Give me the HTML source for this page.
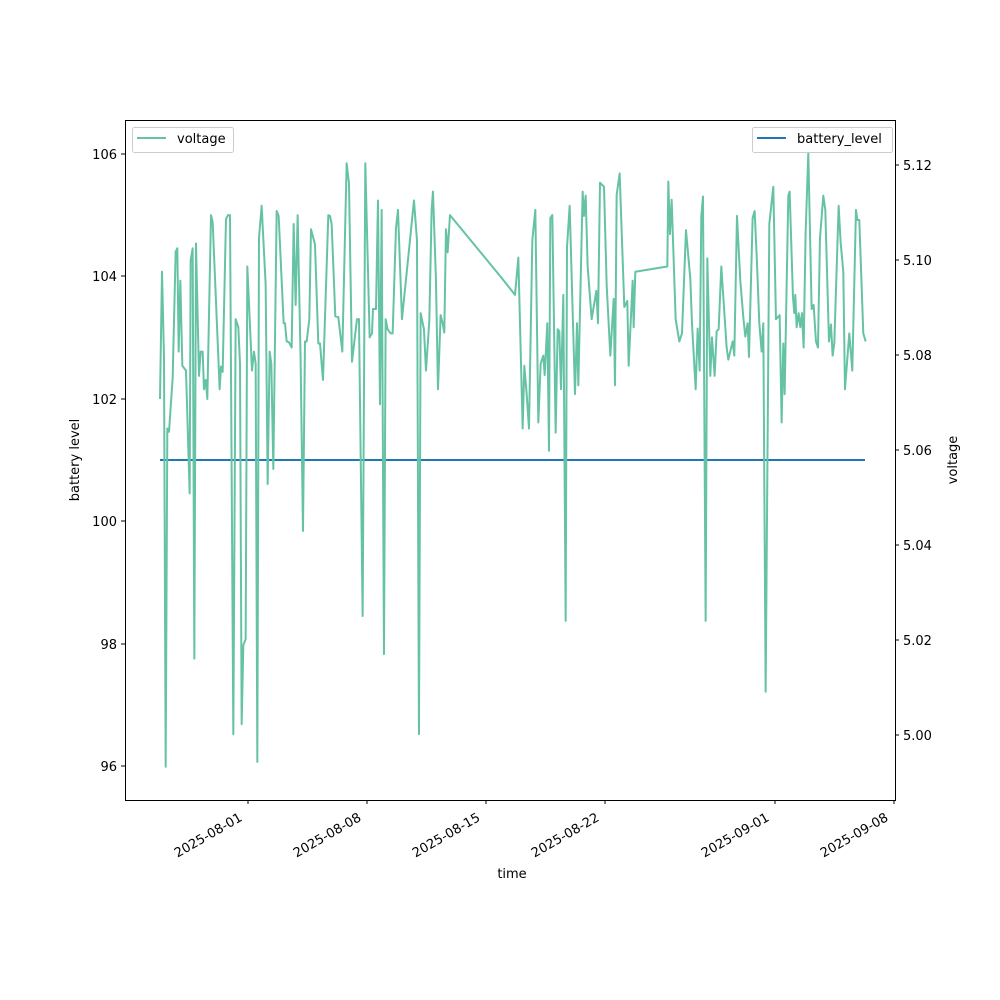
<!DOCTYPE html>
<html><head><meta charset="utf-8"><style>body{margin:0;background:#fff}svg{display:block}text{font-family:"DejaVu Sans","Liberation Sans",sans-serif;font-size:13px;fill:#000}</style></head>
<body>
<svg width="1000" height="1000" viewBox="0 0 1000 1000">
<rect width="1000" height="1000" fill="#fff"/>
<line x1="160" y1="460" x2="865" y2="460" stroke="#1f77b4" stroke-width="2"/>
<g fill="none" stroke="#66c2a5" stroke-width="2" stroke-linejoin="round">
<polyline vector-effect="non-scaling-stroke" transform="matrix(0.3333,0,0,0.405,150,143)" points="30,632 36,318 42,530 47,1540 52,705 57,713 68,580 77,268 82,260 86,515 91,340 97,550 108,562 119,865 122,290 128,260 133,1273 138,248 147,575 152,515 158,515 162,608 167,585 172,632 183,178 188,195 209,608 213,552 218,565 228,188 234,178 240,178 250,1460 257,435 265,455 270,545 275,1435 280,1240 287,1225 292,305 306,562 312,515 317,545 322,1528 327,235 335,155 347,350 353,842 359,515 364,545 370,805 380,168 386,180 401,445 405,445 410,490 417,492 425,505 431,200 437,400 443,178 452,540 459,958 465,490 470,490 478,435 483,213 495,250 505,495 510,495 519,585 535,178 540,180 545,200 556,428 565,430 577,515 590,50 597,100 606,540 621,435 627,435 638,1168 646,50 659,480 666,470 669,410 678,410 684,142 690,645 695,165 702,1262 707,435 713,460 722,470 728,470 738,210 744,165 756,435 792,142 801,240 807,1460 812,420 822,460 828,562 838,440 845,165 849,120 858,340 864,608 872,425 878,445 883,468 888,213 893,270 900,178 1050,328"/>
<polyline vector-effect="non-scaling-stroke" transform="matrix(0.3333,0,0,0.405,500,143)" points="0,328 45,375 55,283 68,705 73,550 80,620 87,705 97,240 106,165 115,690 122,545 130,525 134,573 142,445 147,760 151,185 157,178 167,715 173,460 178,465 183,608 190,375 197,1180 201,258 209,155 225,620 231,445 235,598 248,120 252,180 257,130 263,305 275,435 289,365 294,445 300,98 312,108 320,350 331,525 341,385 345,598 350,128 359,75 373,405 382,390 386,550 398,340 401,455 406,318 502,305 505,95 510,225 515,140 527,435 538,490 546,470 558,215 571,335 576,445 587,608 593,458 599,562 604,180 609,132 617,1180 622,285 631,575 636,480 644,575 650,465 656,460 664,305 680,505 685,535 698,490 703,525 711,180 721,340 730,430 736,478 743,445 747,528 758,185 764,168 771,295 778,445 785,515 790,445 797,1355 808,200 820,108 828,435 839,425 845,690 850,495 854,620 865,130 869,120 879,380 883,420 886,375 890,455 896,420 901,455 906,420 911,505 917,220 925,25 935,410 941,400 948,490 954,505 960,235 970,130 976,165 987,490 993,448 998,525 1003,495 1016,155 1022,245 1030,318 1035,608 1048,470 1057,562 1068,165 1072,190 1078,190 1090,470 1097,490"/>
</g>
<rect x="125.5" y="120.5" width="770" height="680" fill="none" stroke="#000" stroke-width="1"/>
<g stroke="#000">
<line x1="125" y1="154" x2="121" y2="154"/><line x1="125" y1="276" x2="121" y2="276"/><line x1="125" y1="399" x2="121" y2="399"/><line x1="125" y1="521" x2="121" y2="521"/><line x1="125" y1="644" x2="121" y2="644"/><line x1="125" y1="766" x2="121" y2="766"/>
<line x1="895" y1="165" x2="899" y2="165"/><line x1="895" y1="260" x2="899" y2="260"/><line x1="895" y1="355" x2="899" y2="355"/><line x1="895" y1="450" x2="899" y2="450"/><line x1="895" y1="545" x2="899" y2="545"/><line x1="895" y1="640" x2="899" y2="640"/><line x1="895" y1="735" x2="899" y2="735"/>
<line x1="248" y1="800" x2="248" y2="804"/><line x1="367" y1="800" x2="367" y2="804"/><line x1="486" y1="800" x2="486" y2="804"/><line x1="605" y1="800" x2="605" y2="804"/><line x1="775" y1="800" x2="775" y2="804"/><line x1="894" y1="800" x2="894" y2="804"/>
</g>
<g text-anchor="end">
<text x="117" y="159">106</text><text x="117" y="281">104</text><text x="117" y="404">102</text><text x="117" y="526">100</text><text x="117" y="649">98</text><text x="117" y="771">96</text>
</g>
<g>
<text x="903" y="170">5.12</text><text x="903" y="265">5.10</text><text x="903" y="360">5.08</text><text x="903" y="455">5.06</text><text x="903" y="550">5.04</text><text x="903" y="645">5.02</text><text x="903" y="740">5.00</text>
</g>
<g text-anchor="end">
<text transform="translate(243,820) rotate(-30)">2025-08-01</text>
<text transform="translate(362,820) rotate(-30)">2025-08-08</text>
<text transform="translate(481,820) rotate(-30)">2025-08-15</text>
<text transform="translate(600,820) rotate(-30)">2025-08-22</text>
<text transform="translate(770,820) rotate(-30)">2025-09-01</text>
<text transform="translate(889,820) rotate(-30)">2025-09-08</text>
</g>
<text x="512" y="878" text-anchor="middle">time</text>
<text transform="translate(79,460) rotate(-90)" text-anchor="middle">battery level</text>
<text transform="translate(957,460) rotate(-90)" text-anchor="middle">voltage</text>
<rect x="132.5" y="127.5" width="101" height="25" rx="2" fill="#fff" fill-opacity="0.8" stroke="#ccc"/>
<line x1="137" y1="138" x2="166" y2="138" stroke="#66c2a5" stroke-width="2"/>
<text x="177" y="143">voltage</text>
<rect x="752.5" y="127.5" width="140" height="25" rx="2" fill="#fff" fill-opacity="0.8" stroke="#ccc"/>
<line x1="757" y1="138" x2="786" y2="138" stroke="#1f77b4" stroke-width="2"/>
<text x="797" y="143">battery_level</text>
</svg>
</body></html>
